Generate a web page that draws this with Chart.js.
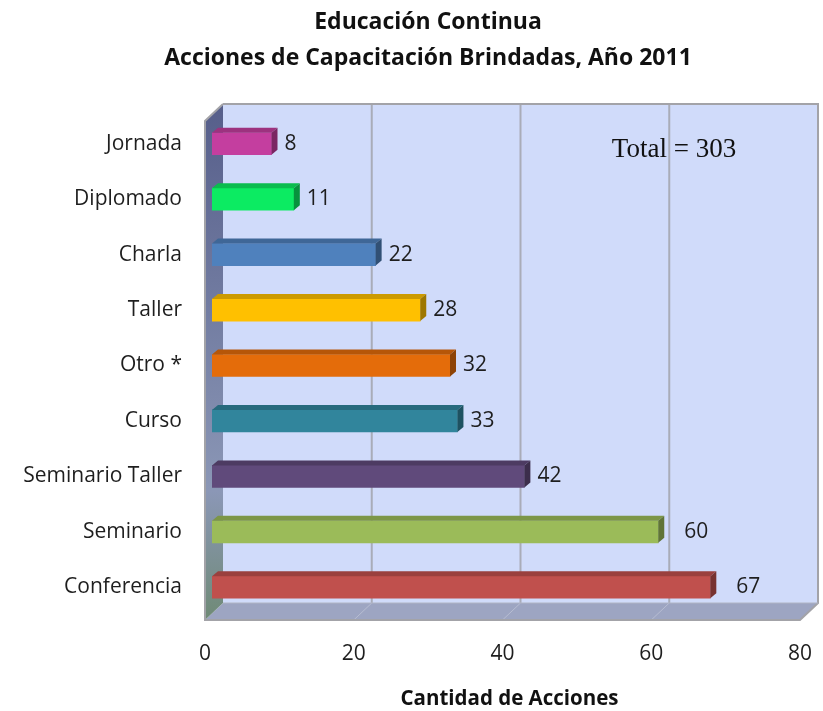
<!DOCTYPE html>
<html>
<head>
<meta charset="utf-8">
<script src="https://cdn.jsdelivr.net/npm/chart.js@4/dist/chart.umd.min.js"></script>
<style>
  html,body{margin:0;padding:0;background:#fff;}
  #wrap{width:823px;height:711px;}
</style>
</head>
<body>
<div id="wrap"><canvas id="c" width="823" height="711"></canvas></div>
<script>
const categories = ['Jornada','Diplomado','Charla','Taller','Otro *','Curso','Seminario Taller','Seminario','Conferencia'];
const values = [8, 11, 22, 28, 32, 33, 42, 60, 67];
const barColors = ['#C43E9F','#0CEB62','#4F81BD','#FFC000','#E46C0A','#31859C','#604A7B','#9BBB59','#C0504D'];
const xTicks = [0, 20, 40, 60, 80];
const titleLines = ['Educación Continua', 'Acciones de Capacitación Brindadas, Año 2011'];
const xTitle = 'Cantidad de Acciones';
const totalNote = 'Total = 303';

const SANS = '"Open Sans", Lato, sans-serif';
const DEPTH = {dx: 11, dy: 12};     // bar plane -> back wall
const FRONT = {dx: 7, dy: 5};       // bar plane -> front edge
const BAR3D = {dx: 6, dy: 5};

function shade(hex, f) {
  const n = parseInt(hex.slice(1), 16);
  let r = (n >> 16) & 255, g = (n >> 8) & 255, b = n & 255;
  r = Math.round(r * f); g = Math.round(g * f); b = Math.round(b * f);
  return `rgb(${r},${g},${b})`;
}

const wallsPlugin = {
  id: 'walls',
  afterDraw(chart) {
    const {ctx} = chart;
    ctx.save();
    ctx.fillStyle = '#111';
    ctx.font = 'bold 23px ' + SANS;
    ctx.textAlign = 'center'; ctx.textBaseline = 'middle';
    ctx.fillText(titleLines[0], 428, 22);
    ctx.fillText(titleLines[1], 428, 58);
    ctx.restore();
  },
  beforeDatasetsDraw(chart) {
    const {ctx, chartArea: a, scales: {x}} = chart;
    const bx0 = a.left + DEPTH.dx, bx1 = a.right + DEPTH.dx;
    const by0 = a.top - DEPTH.dy, by1 = a.bottom - DEPTH.dy;
    const fx0 = a.left - FRONT.dx, fx1 = a.right - FRONT.dx;
    const fy1 = a.bottom + FRONT.dy, fy0 = a.top + FRONT.dy;
    ctx.save();
    ctx.fillStyle = '#D0DBFA';
    ctx.fillRect(bx0, by0, bx1 - bx0, by1 - by0);
    ctx.beginPath();
    ctx.moveTo(fx0, fy1); ctx.lineTo(fx1, fy1); ctx.lineTo(bx1, by1); ctx.lineTo(bx0, by1); ctx.closePath();
    ctx.fillStyle = '#9DA5C2'; ctx.fill();
    const g = ctx.createLinearGradient(0, by0, 0, fy1);
    g.addColorStop(0, '#565E8A'); g.addColorStop(0.75, '#8B97B6'); g.addColorStop(1, '#6F8A76');
    ctx.beginPath();
    ctx.moveTo(fx0, fy0); ctx.lineTo(bx0, by0); ctx.lineTo(bx0, by1); ctx.lineTo(fx0, fy1); ctx.closePath();
    ctx.fillStyle = g; ctx.fill();
    ctx.lineWidth = 2; ctx.strokeStyle = '#A9ACB8';
    xTicks.forEach(v => {
      if (v === 0 || v === 80) return;
      const px = x.getPixelForValue(v);
      ctx.beginPath(); ctx.moveTo(px + DEPTH.dx, by0); ctx.lineTo(px + DEPTH.dx, by1); ctx.stroke();
      ctx.save(); ctx.lineWidth = 1; ctx.strokeStyle = '#B7BDD2';
      ctx.beginPath(); ctx.moveTo(px + DEPTH.dx, by1); ctx.lineTo(px - FRONT.dx, fy1); ctx.stroke();
      ctx.restore();
    });
    ctx.strokeStyle = '#A3A3A8'; ctx.lineWidth = 2;
    ctx.beginPath(); ctx.moveTo(bx0, by0); ctx.lineTo(bx1, by0); ctx.lineTo(bx1, by1); ctx.lineTo(fx1, fy1); ctx.lineTo(fx0, fy1); ctx.lineTo(fx0, fy0); ctx.lineTo(bx0, by0); ctx.stroke();
    ctx.lineWidth = 1; ctx.strokeStyle = '#B0B4C4';
    ctx.beginPath(); ctx.moveTo(bx0, by1); ctx.lineTo(bx1, by1); ctx.stroke();
    ctx.restore();
  },
  afterDatasetsDraw(chart) {
    const {ctx} = chart;
    const meta = chart.getDatasetMeta(0);
    ctx.save();
    meta.data.forEach((el, i) => {
      const col = barColors[i];
      const top = el.y - el.height / 2;
      const bot = el.y + el.height / 2;
      ctx.beginPath();
      ctx.moveTo(el.base, top); ctx.lineTo(el.base + BAR3D.dx, top - BAR3D.dy);
      ctx.lineTo(el.x + BAR3D.dx, top - BAR3D.dy); ctx.lineTo(el.x, top); ctx.closePath();
      ctx.fillStyle = shade(col, 0.8); ctx.fill();
      ctx.beginPath();
      ctx.moveTo(el.x, top); ctx.lineTo(el.x + BAR3D.dx, top - BAR3D.dy);
      ctx.lineTo(el.x + BAR3D.dx, bot - BAR3D.dy); ctx.lineTo(el.x, bot); ctx.closePath();
      ctx.fillStyle = shade(col, 0.62); ctx.fill();
      const gap = values[i] >= 60 ? 20 : 7;
      ctx.fillStyle = '#1E1E1E';
      ctx.font = '21px ' + SANS;
      ctx.textAlign = 'left'; ctx.textBaseline = 'middle';
      ctx.fillText(String(values[i]), el.x + BAR3D.dx + gap, el.y);
    });
    ctx.font = '27px "Liberation Serif", "DejaVu Serif", serif';
    ctx.fillStyle = '#111';
    ctx.textAlign = 'center'; ctx.textBaseline = 'middle';
    ctx.fillText(totalNote, 674, 150);
    ctx.restore();
  }
};

new Chart(document.getElementById('c'), {
  type: 'bar',
  data: {
    labels: categories,
    datasets: [{
      data: values,
      backgroundColor: barColors,
      borderWidth: 0,
      barThickness: 22
    }]
  },
  options: {
    indexAxis: 'y',
    responsive: false,
    animation: false,
    layout: {padding: {left: 0, right: 16, top: 116, bottom: 0}},
    plugins: {
      legend: {display: false},
      tooltip: {enabled: false},
      title: {display: false}
    },
    scales: {
      x: {
        min: 0, max: 80,
        afterBuildTicks(scale) { scale.ticks = xTicks.map(v => ({value: v})); },
        afterFit(scale) { scale.height = 96; scale.paddingLeft = 0; scale.paddingRight = 0; },
        grid: {display: false, drawTicks: false},
        border: {display: false},
        ticks: {color: '#1E1E1E', font: {family: SANS, size: 21}, padding: 26, labelOffset: -7},
        title: {display: true, text: xTitle, color: '#111', font: {family: SANS, size: 20.5, weight: 'bold'}, padding: {top: 0, bottom: 0}}
      },
      y: {
        afterFit(scale) { scale.width = 212; scale.paddingTop = 0; scale.paddingBottom = 0; },
        grid: {display: false, drawTicks: false},
        border: {display: false},
        ticks: {color: '#1E1E1E', font: {family: SANS, size: 21}, padding: 30}
      }
    }
  },
  plugins: [wallsPlugin]
});
</script>
</body>
</html>
